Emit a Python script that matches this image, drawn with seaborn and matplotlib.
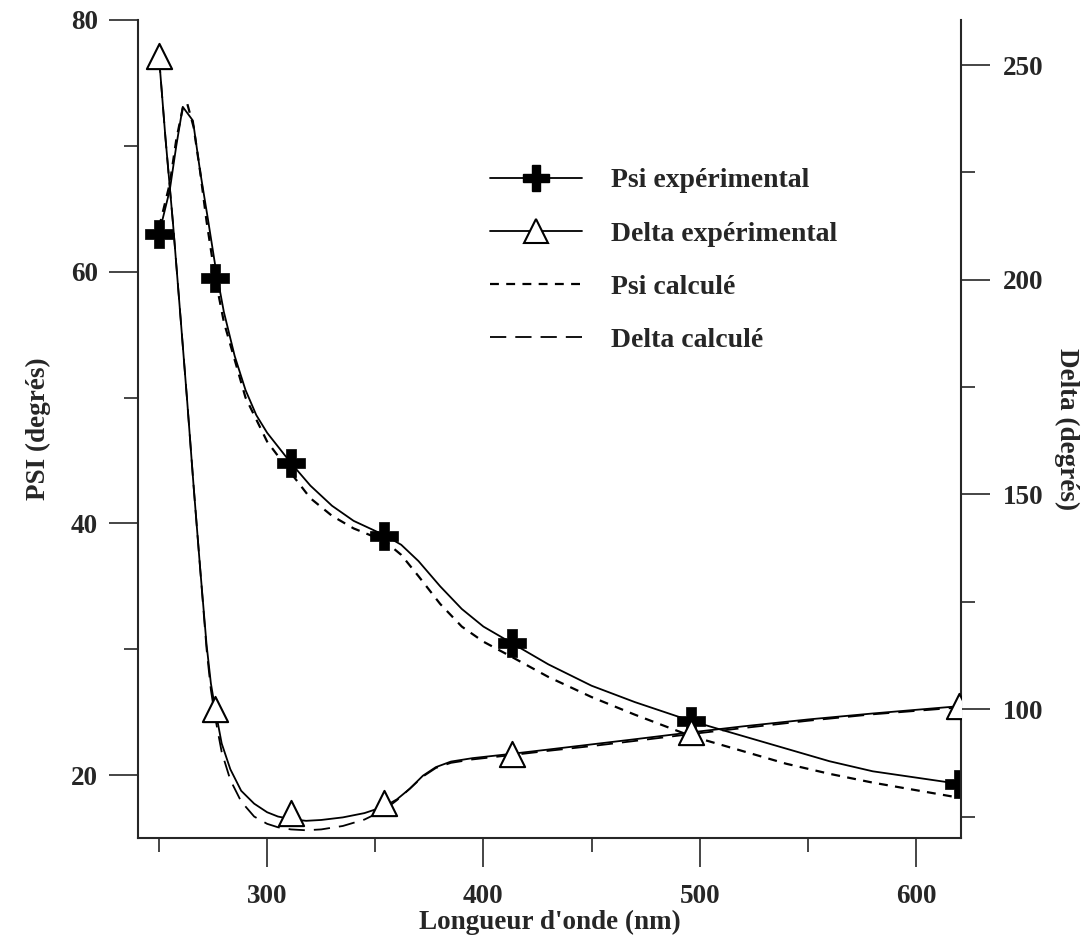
import numpy as np
import pandas as pd
import seaborn as sns
import matplotlib.pyplot as plt
from matplotlib.lines import Line2D

# measured points (markers)
wl_pts = [250, 276, 311, 354, 413, 496, 620]
psi_pts = [63.0, 59.5, 44.8, 39.0, 30.5, 24.3, 19.3]
delta_pts = [252.0, 100.0, 75.8, 78.2, 89.6, 94.6, 100.8]

# Psi experimental curve
wl_psi_exp = [250, 255, 258, 261, 265.7, 269, 272.7, 276, 280, 285, 290, 295, 300, 311,
              320, 330, 340, 350, 355, 362, 370, 380, 390, 400, 413, 430, 450, 470,
              496, 520, 540, 560, 580, 600, 620]
psi_exp = [63.0, 66.5, 70.0, 73.1, 72.0, 68.0, 64.1, 60.5, 56.8, 53.3, 50.6, 48.6, 47.2, 44.8,
           43.0, 41.4, 40.2, 39.4, 39.0, 38.3, 37.0, 35.0, 33.2, 31.8, 30.5, 28.8, 27.1, 25.8,
           24.3, 23.1, 22.1, 21.1, 20.3, 19.8, 19.3]

# Psi calculated curve
wl_psi_calc = [250, 255, 258, 261, 263, 266, 269, 272, 276, 280, 290, 300, 311, 320, 330,
               340, 350, 355, 362, 370, 380, 390, 400, 413, 430, 450, 470, 496, 520, 540,
               560, 580, 600, 620]
psi_calc = [63.5, 67.0, 70.5, 73.0, 73.4, 71.5, 68.0, 64.0, 59.5, 56.0, 50.0, 46.5, 44.0,
            42.0, 40.6, 39.6, 38.9, 38.5, 37.5, 35.8, 33.6, 31.8, 30.6, 29.4, 27.8, 26.2,
            24.8, 23.1, 21.9, 20.9, 20.1, 19.4, 18.8, 18.2]

# Delta experimental curve
wl_delta = [250, 253, 256.5, 260, 263, 266, 269, 272, 274, 276, 279, 283, 288, 294, 300,
            305, 311, 318, 325, 335, 345, 354, 360, 366, 372, 378, 385, 395, 413, 430,
            450, 470, 496, 520, 550, 580, 620]
delta_exp = [252, 233, 213, 191, 172, 152, 133, 115, 106, 100, 92.0, 86.0, 81.0, 78.0, 76.0,
             75.0, 74.4, 74.0, 74.2, 74.8, 75.8, 77.3, 79.0, 81.5, 84.5, 86.5, 87.8, 88.6,
             89.6, 90.6, 91.8, 93.0, 94.6, 96.0, 97.6, 99.0, 100.7]

# Delta calculated curve
delta_calc = [252, 233, 213, 191, 172, 152, 133, 114, 104.5, 98.0, 90.0, 83.5, 78.5, 75.0,
              73.3, 72.5, 72.0, 71.8, 72.0, 72.8, 74.3, 76.5, 78.8, 81.5, 84.3, 86.3, 87.5,
              88.3, 89.3, 90.3, 91.4, 92.6, 94.2, 95.6, 97.3, 98.8, 100.4]

sns.set_style("ticks")
plt.rcParams['font.family'] = ['Liberation Serif', 'DejaVu Serif']
plt.rcParams['font.weight'] = 'bold'
plt.rcParams['axes.labelweight'] = 'bold'

fig = plt.figure(figsize=(10.86, 9.41), dpi=100)
ax = fig.add_axes([138 / 1086, 1 - 838 / 941, (961 - 138) / 1086, (838 - 20) / 941])
ax2 = ax.twinx()

lw = 1.3
sns.lineplot(x=wl_psi_exp, y=psi_exp, ax=ax, color="black", lw=lw, sort=False)
sns.lineplot(x=wl_psi_calc, y=psi_calc, ax=ax, color="black", lw=1.6, sort=False,
             linestyle=(0, (4, 3.3)))
sns.scatterplot(x=wl_pts, y=psi_pts, ax=ax, marker="P", s=400, color="black",
                edgecolor="black", linewidth=0.5, zorder=5)

sns.lineplot(x=wl_delta, y=delta_exp, ax=ax2, color="black", lw=lw, sort=False)
sns.lineplot(x=wl_delta, y=delta_calc, ax=ax2, color="black", lw=lw, sort=False,
             linestyle=(0, (9, 5)))
sns.scatterplot(x=wl_pts, y=delta_pts, ax=ax2, marker="^", s=330, facecolor="white",
                edgecolor="black", linewidth=1.5, zorder=5)

ax.set_xlim(240.3, 620.8)
ax.set_ylim(15, 80)
ax2.set_ylim(70, 260.5)

ax.set_xticks([300, 400, 500, 600])
ax.set_xticks([250, 350, 450, 550], minor=True)
ax.set_yticks([20, 40, 60, 80])
ax.set_yticks([30, 50, 70], minor=True)
ax2.set_yticks([100, 150, 200, 250])
ax2.set_yticks([75, 125, 175, 225], minor=True)

for a in (ax, ax2):
    a.spines["top"].set_visible(False)
    for s in a.spines.values():
        s.set_linewidth(1.5)
    a.tick_params(which="major", direction="out", length=21, width=1.2, labelsize=19.5)
    a.tick_params(which="minor", direction="out", length=10, width=1.2)
ax.spines["right"].set_visible(False)
ax2.spines["left"].set_visible(False)
ax2.spines["bottom"].set_visible(False)
ax.tick_params(axis="x", which="major", pad=12)
ax.tick_params(axis="y", which="major", pad=8)
ax2.tick_params(axis="y", which="major", pad=9)

ax.set_xlabel("Longueur d'onde (nm)", fontsize=19.5, labelpad=1)
ax.set_ylabel("PSI (degrés)", fontsize=19.5, labelpad=14)
ax2.set_ylabel("Delta (degrés)", fontsize=19.5, rotation=270, labelpad=26)

handles = [
    Line2D([], [], color="black", lw=lw, marker="P", markersize=19),
    Line2D([], [], color="black", lw=lw, marker="^", markersize=17,
           markerfacecolor="white", markeredgewidth=1.5),
    Line2D([], [], color="black", lw=1.6, linestyle=(0, (4, 3.3))),
    Line2D([], [], color="black", lw=lw, linestyle=(0, (9, 5))),
]
labels = ["Psi expérimental", "Delta expérimental", "Psi calculé", "Delta calculé"]
fig.legend(handles, labels, loc="upper left", bbox_to_anchor=(490 / 1086, 1 - 168 / 941),
           frameon=False, fontsize=20, handlelength=3.3, handletextpad=1.05,
           labelspacing=1.0, borderpad=0, borderaxespad=0)

fig.savefig("out.png", dpi=100)
